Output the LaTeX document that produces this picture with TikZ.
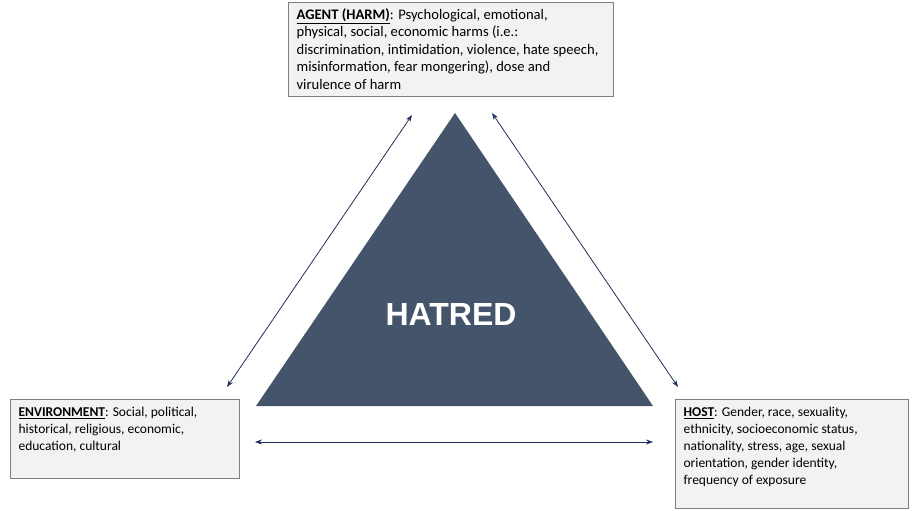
\documentclass[tikz,border=0pt]{standalone}
\usepackage{fontspec}
\setmainfont{Carlito}
\newfontfamily\hatfont{Liberation Sans}
\usetikzlibrary{arrows.meta}
\definecolor{boxfill}{HTML}{F2F2F2}
\definecolor{boxline}{HTML}{7F7F7F}
\definecolor{tri}{HTML}{44546A}
\definecolor{arr}{HTML}{1F2D5C}
\tikzset{
  infobox/.style={draw=boxline, fill=boxfill, line width=1.2pt, anchor=north west, inner sep=8pt, font=\fontsize{13.5}{17}\selectfont, text=black},
  link/.style={draw=arr, line width=0.8pt, {Stealth[length=7pt,width=5pt]}-{Stealth[length=7pt,width=5pt]}}
}
\newcommand{\boxtext}[3]{\begin{minipage}[t][#2][t]{#1}\raggedright #3\end{minipage}}
\begin{document}
\begin{tikzpicture}[x=1pt,y=-1pt]
\useasboundingbox (0,0) rectangle (913,511);
% triangle
\path[fill=tri] (455,113) -- (653,406) -- (256,406) -- cycle;
\node[text=white, font=\hatfont\bfseries\fontsize{32}{32}\selectfont] (hatred) at (451,314) {HATRED};
% boxes
\node[infobox, font=\fontsize{14.6}{17.5}\selectfont, inner ysep=6pt] (agent) at (288,2) {\boxtext{309pt}{82pt}{\textbf{\underline{AGENT (HARM)}}: Psychological, emotional,\\ physical, social, economic harms (i.e.:\\ discrimination, intimidation, violence, hate speech,\\ misinformation, fear mongering), dose and\\ virulence of harm}};
\node[infobox] (env) at (10,399) {\boxtext{213pt}{63pt}{\textbf{\underline{ENVIRONMENT}}: Social, political,\\ historical, religious, economic,\\ education, cultural}};
\node[infobox] (host) at (675,399) {\boxtext{217pt}{93pt}{\textbf{\underline{HOST}}: Gender, race, sexuality,\\ ethnicity, socioeconomic status,\\ nationality, stress, age, sexual\\ orientation, gender identity,\\ frequency of exposure}};
% arrow endpoints
\coordinate (la) at (412,115);
\coordinate (lb) at (227,387);
\coordinate (ra) at (492,113);
\coordinate (rb) at (678,387);
\coordinate (ba) at (255,442);
\coordinate (bb) at (653,442);
\draw[link] (la) -- (lb);
\draw[link] (ra) -- (rb);
\draw[link] (ba) -- (bb);
\end{tikzpicture}
\end{document}
